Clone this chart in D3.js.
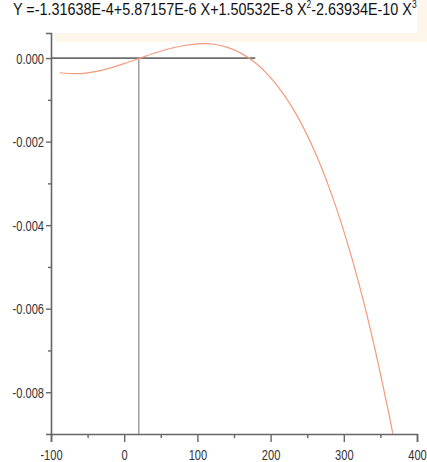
<!DOCTYPE html>
<html><head><meta charset="utf-8">
<script src="https://cdn.jsdelivr.net/npm/d3@7"></script>
<style>body{margin:0;background:#fff}svg{display:block}</style>
</head><body><svg id="c" width="427" height="462"></svg>
<script>
const curveX = [-88,-60,-40,-20,0,20,40,60,80,100,110,120,140,160,180,200,220,240,260,280,300,320,340,360,367];
const curveY = [-0.000352,-0.000373,-0.000326,-0.000241,-0.000132,-0.000011,0.000110,0.000218,0.000295,0.000342,0.000346,0.000336,0.000261,0.000112,-0.000126,-0.000467,-0.000922,-0.001504,-0.002226,-0.003101,-0.004142,-0.005360,-0.006769,-0.008381,-0.008995];
const xTicks = [-100,0,100,200,300,400];
const xMinor = [-50,50,150,250,350];
const yTicks = [0,-0.002,-0.004,-0.006,-0.008];
const yMinor = [-0.001,-0.003,-0.005,-0.007];
const zeroLineEnd = 179;
const vLineX = 20;
const titleParts = [["Y =-1.31638E-4+5.87157E-6 X+1.50532E-8 X",""],["2","sup"],["-2.63934E-10 X",""],["3","sup"]];

const svg = d3.select("#c");
const font = "'Liberation Sans',Arial,sans-serif";
const x = d3.scaleLinear().domain([-100,400]).range([51,417]);
const y = d3.scaleLinear().domain([-0.009,0.0006]).range([434,33]);
const hy = s => s.replace(/\u2212/g,"-");
const sx = 0.74;

svg.append("rect").attr("x",55).attr("y",0).attr("width",372).attr("height",42).attr("fill","#fdf6ea");
svg.append("rect").attr("x",0).attr("y",0).attr("width",417).attr("height",33).attr("fill","#fff");

const t = svg.append("text").attr("font-family",font).attr("font-size",17).attr("fill","#111");
titleParts.forEach(p=>{
  const ts = t.append("tspan").text(p[0]);
  if(p[1]==="sup") ts.attr("font-size",10).attr("dy",-7);
  else if(t.selectAll("tspan").size()>1) ts.attr("dy",7);
});
const tw = t.node().getComputedTextLength();
t.attr("transform",`translate(13,15) scale(${404/tw},1)`);

// reference lines
svg.append("line").attr("x1",x(-100)).attr("x2",x(zeroLineEnd)).attr("y1",y(0)).attr("y2",y(0)).attr("stroke","#000").attr("stroke-width",1);
svg.append("line").attr("x1",x(vLineX)).attr("x2",x(vLineX)).attr("y1",y(0)).attr("y2",y(-0.009)).attr("stroke","#888").attr("stroke-width",1.2);

// curve
svg.append("clipPath").attr("id","clip").append("rect").attr("x",51).attr("y",33).attr("width",366).attr("height",401);
const line = d3.line().x(d=>x(d[0])).y(d=>y(d[1])).curve(d3.curveCatmullRom);
svg.append("path").datum(curveX.map((v,i)=>[v,curveY[i]])).attr("d",line).attr("fill","none")
  .attr("stroke","#f29b7c").attr("stroke-width",1.2).attr("clip-path","url(#clip)");

// axes
const axCol = "#666";
const gx = svg.append("g").attr("transform","translate(0,434)")
  .call(d3.axisBottom(x).tickValues(xTicks).tickSize(8).tickPadding(7).tickFormat(d=>hy(d3.format("d")(d))));
const gxm = svg.append("g").attr("transform","translate(0,434)")
  .call(d3.axisBottom(x).tickValues(xMinor).tickSize(4).tickFormat(""));
const gy = svg.append("g").attr("transform","translate(51,0)")
  .call(d3.axisLeft(y).tickValues(yTicks).tickSize(5).tickPadding(2).tickFormat(d=>hy(d3.format(".3f")(d))));
const gym = svg.append("g").attr("transform","translate(51,0)")
  .call(d3.axisLeft(y).tickValues(yMinor).tickSize(3).tickFormat(""));
[gx,gxm,gy,gym].forEach(g=>{
  g.select(".domain").attr("stroke",axCol).attr("stroke-width",1.6);
  g.selectAll(".tick line").attr("stroke",axCol).attr("stroke-width",1.4);
  g.selectAll("text").attr("font-family",font).attr("font-size",15).attr("fill","#333");
});
gxm.select(".domain").remove(); gym.select(".domain").remove();
gy.selectAll("text").attr("dy","0.35em").attr("x",-7/sx).attr("transform",`scale(${sx},1)`);
gx.selectAll("text").attr("transform",`scale(${sx},1)`);
</script></body></html>
